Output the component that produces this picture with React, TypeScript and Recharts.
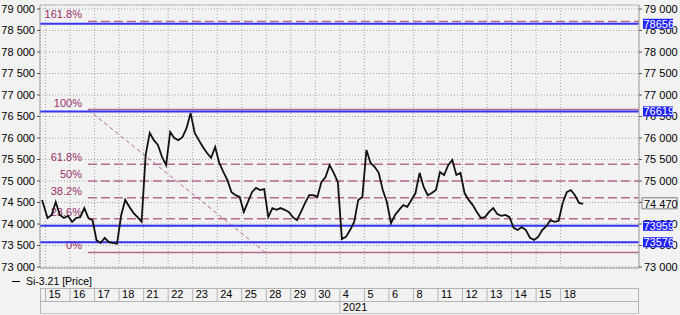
import React from 'react';
import { ComposedChart, Line, XAxis, YAxis, CartesianGrid, ReferenceLine } from 'recharts';

// trading days shown on the time axis
const dayLabels = ['15', '16', '17', '18', '21', '22', '23', '24', '25', '28', '29', '30', '4', '5', '6', '8', '11', '12', '13', '14', '15', '18'];
const yearTicks = [12];
const yearLabels = ['2021'];

// Si-3.21 closes, 6 bars per day
const preClose = 74560;
const closesByDay = [
  [74140, 74210, 74510, 74210, 74140, 74190],
  [74050, 74140, 74160, 74370, 74140, 74090],
  [73620, 73560, 73680, 73580, 73560, 73540],
  [74200, 74560, 74400, 74260, 74160, 74050],
  [75600, 76120, 75950, 75840, 75560, 75370],
  [76140, 76000, 75950, 76020, 76230, 76580],
  [76120, 75950, 75790, 75650, 75540, 75790],
  [75420, 75210, 75020, 74740, 74670, 74630],
  [74280, 74510, 74740, 74840, 74790, 74810],
  [74160, 74370, 74330, 74370, 74330, 74280],
  [74160, 74090, 74280, 74490, 74670, 74670],
  [74630, 74980, 75090, 75370, 75190, 74980],
  [73650, 73700, 73860, 74050, 74560, 74630],
  [75720, 75420, 75330, 75190, 74790, 74510],
  [74020, 74210, 74330, 74440, 74400, 74560],
  [74720, 75190, 74860, 74670, 74720, 74790],
  [75210, 75140, 75370, 75490, 75140, 75190],
  [74720, 74560, 74440, 74280, 74140, 74160],
  [74280, 74370, 74230, 74190, 74210, 74160],
  [73910, 73860, 73930, 73860, 73680, 73630],
  [73700, 73860, 73950, 74090, 74050, 74070],
  [74490, 74740, 74790, 74670, 74490, 74470],
];

// fibonacci retracement (drawn from the high on day 1.73 to the low on day 8.96)
const fibLabels = ['161.8%', '100%', '61.8%', '50%', '38.2%', '23.6%', '0%'];
const fibValues = [78712, 76660, 75392, 75000, 74608, 74124, 73340];
const fibDashed = [true, false, true, true, true, true, false];
const fibStart = { day: 1.73, value: 76660 };
const fibEnd = { day: 8.96, value: 73340 };

// horizontal levels and last price
const levelValues = [78656, 76619, 73959, 73576];
const lastPrice = 74470;

const yTicks = [73000, 73500, 74000, 74500, 75000, 75500, 76000, 76500, 77000, 77500, 78000, 78500, 79000];
const yDomain = [72977, 79093];
const xDomain = [-0.224, 24.195];

const FONT = '"Liberation Sans", Arial, sans-serif';
const FIB_LINE = '#b56a92';
const FIB_TEXT = '#992e66';
const BLUE = '#3535f2';

const perDay = 6;
const data = [{ x: -0.14, price: preClose }];
closesByDay.forEach((day, d) =>
  day.forEach((p, k) => data.push({ x: d + (k + 0.5) / perDay, price: p }))
);

const fmt = (v: number) => `${Math.floor(v / 1000)} ${String(v % 1000).padStart(3, '0')}`;

const YTick = (props: any) => {
  const { x, y, payload, textAnchor } = props;
  return (
    <text x={x} y={y} dy="0.355em" textAnchor={textAnchor} fontSize={11} fontFamily={FONT} fill="#000">
      {fmt(payload.value)}
    </text>
  );
};

// right axis: regular ticks, then the price tags drawn on top of them
const RightTick = (props: any) => {
  const { x, y, payload } = props;
  const v = payload.value;
  const left = x - 5;
  if (v === lastPrice) {
    return (
      <g>
        <rect x={left + 3} y={y - 6} width={35} height={11} fill="#f4f4f4" stroke="#808080" />
        <text x={left + 5} y={y + 4} fontSize={11} fontFamily={FONT} fill="#000">
          {fmt(v)}
        </text>
      </g>
    );
  }
  if (levelValues.includes(v)) {
    return (
      <g>
        <rect x={left + 4} y={y - 5} width={30} height={10} fill="#2020ff" />
        <text x={left + 4.5} y={y + 4} fontSize={11} fontFamily={FONT} fill="#fff">
          {v}
        </text>
      </g>
    );
  }
  return (
    <g>
      <line x1={left} y1={y} x2={left + 3} y2={y} stroke="#555" />
      <text x={left + 5} y={y} dy="0.355em" fontSize={11} fontFamily={FONT} fill="#000">
        {fmt(v)}
      </text>
    </g>
  );
};

const DayTick = (props: any) => {
  const { x, payload } = props;
  return (
    <g>
      <line x1={x} y1={288} x2={x} y2={302} stroke="#b4b4b4" />
      <text x={x + 3} y={298} fontSize={11} fontFamily={FONT} fill="#000">
        {dayLabels[payload.value]}
      </text>
    </g>
  );
};

const YearTick = (props: any) => {
  const { x, index } = props;
  return (
    <g>
      <line x1={x} y1={302} x2={x} y2={313} stroke="#b4b4b4" />
      <text x={x + 3} y={311} fontSize={11} fontFamily={FONT} fill="#000">
        {yearLabels[index]}
      </text>
    </g>
  );
};

const fibLabel = (text: string) => (props: any) => {
  const { viewBox } = props;
  return (
    <text x={viewBox.x - 6} y={viewBox.y - 3} textAnchor="end" fontSize={11} fontFamily={FONT} fill={FIB_TEXT}>
      {text}
    </text>
  );
};

export default function App() {
  return (
    <div style={{ position: 'absolute', left: 0, top: 0, width: 680, height: 315, background: '#f2f2f2', fontFamily: FONT }}>
      {/* date axis box */}
      <div style={{ position: 'absolute', left: 40, top: 288, width: 597, height: 24, border: '1px solid #b4b4b4', borderBottom: '1px solid #c8c8c8' }} />
      <div style={{ position: 'absolute', left: 40, top: 301, width: 599, height: 1, background: '#b4b4b4' }} />
      {/* legend */}
      <div style={{ position: 'absolute', left: 12, top: 275, display: 'flex', alignItems: 'center', fontSize: 10.5, color: '#000' }}>
        <span style={{ display: 'inline-block', width: 8, height: 1, background: '#000', marginRight: 6 }} />
        <span>Si-3.21 [Price]</span>
      </div>
      <div style={{ position: 'absolute', left: 0, top: 0 }}>
        <ComposedChart width={680} height={315} data={data} margin={{ top: 5, right: 0, bottom: 0, left: 0 }}>
          <CartesianGrid stroke="#a6a6a6" strokeDasharray="1 2" />
          <XAxis
            dataKey="x"
            type="number"
            domain={xDomain}
            allowDataOverflow
            ticks={dayLabels.map((_, i) => i)}
            interval={0}
            tick={<DayTick />}
            tickLine={false}
            axisLine={{ stroke: '#a0a0a0' }}
            height={33}
          />
          <XAxis
            xAxisId="yr"
            dataKey="x"
            type="number"
            domain={xDomain}
            allowDataOverflow
            ticks={yearTicks}
            interval={0}
            tick={<YearTick />}
            tickLine={false}
            axisLine={false}
            height={14}
          />
          <YAxis
            domain={yDomain}
            allowDataOverflow
            ticks={yTicks}
            interval={0}
            width={40}
            tickSize={3}
            tick={<YTick />}
            tickLine={{ stroke: '#555' }}
            axisLine={{ stroke: '#a0a0a0' }}
          />
          <YAxis
            yAxisId="r"
            orientation="right"
            domain={yDomain}
            allowDataOverflow
            ticks={[...yTicks, ...levelValues, lastPrice]}
            interval={0}
            width={41}
            tickSize={3}
            tick={<RightTick />}
            tickLine={false}
            axisLine={{ stroke: '#a0a0a0' }}
          />
          <ReferenceLine y={yDomain[1]} stroke="#c0c0c0" />
          {fibValues.map((v, i) => (
            <ReferenceLine
              key={fibLabels[i]}
              segment={[{ x: fibStart.day, y: v }, { x: xDomain[1], y: v }]}
              stroke={FIB_LINE}
              strokeWidth={1.5}
              strokeDasharray={fibDashed[i] ? '9 4' : undefined}
              label={fibLabel(fibLabels[i])}
            />
          ))}
          <ReferenceLine
            segment={[{ x: fibStart.day, y: fibStart.value }, { x: fibEnd.day, y: fibEnd.value }]}
            stroke={FIB_LINE}
            strokeWidth={1}
            strokeDasharray="4 3"
          />
          {levelValues.map((v) => (
            <ReferenceLine key={v} y={v} stroke={BLUE} strokeWidth={2} />
          ))}
          <Line
            type="linear"
            dataKey="price"
            stroke="#111"
            strokeWidth={1.8}
            dot={false}
            isAnimationActive={false}
          />
        </ComposedChart>
      </div>
    </div>
  );
}
